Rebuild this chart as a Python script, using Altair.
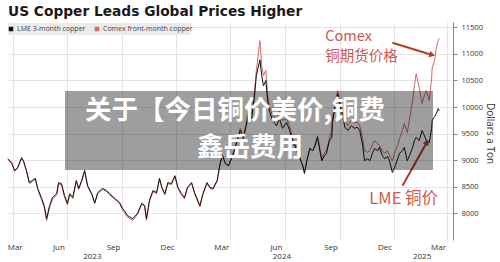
import altair as alt
import pandas as pd

# ---------------- data ----------------
dates = [
    "2023-02-21", "2023-02-24", "2023-02-27", "2023-03-04", "2023-03-09", "2023-03-16", "2023-03-19",
    "2023-03-24", "2023-03-29", "2023-04-03", "2023-04-08", "2023-04-12", "2023-04-18", "2023-04-23",
    "2023-04-27", "2023-05-02", "2023-05-07", "2023-05-14", "2023-05-17", "2023-05-22", "2023-05-27",
    "2023-06-01", "2023-06-05", "2023-06-10", "2023-06-16", "2023-06-20", "2023-06-25", "2023-06-30",
    "2023-07-05", "2023-07-12", "2023-07-17", "2023-07-22", "2023-07-30", "2023-08-06", "2023-08-11",
    "2023-08-20", "2023-08-28", "2023-09-02", "2023-09-05", "2023-09-10", "2023-09-19", "2023-09-27",
    "2023-10-04", "2023-10-09", "2023-10-12", "2023-10-17", "2023-10-23", "2023-10-29", "2023-11-03",
    "2023-11-07", "2023-11-12", "2023-11-17", "2023-11-23", "2023-11-29", "2023-12-04", "2023-12-10",
    "2023-12-15", "2023-12-20", "2023-12-27", "2024-01-01", "2024-01-10", "2024-01-15", "2024-01-22",
    "2024-01-27", "2024-02-01", "2024-02-08", "2024-02-13", "2024-02-17", "2024-02-22", "2024-02-27",
    "2024-03-03", "2024-03-08", "2024-03-13", "2024-03-18", "2024-03-23", "2024-03-28", "2024-04-02",
    "2024-04-06", "2024-04-11", "2024-04-14", "2024-04-20", "2024-04-23", "2024-04-26", "2024-04-30",
    "2024-05-03", "2024-05-06", "2024-05-11", "2024-05-18", "2024-05-23", "2024-05-28", "2024-06-04",
    "2024-06-09", "2024-06-14", "2024-06-21", "2024-06-26", "2024-07-01", "2024-07-04", "2024-07-08",
    "2024-07-13", "2024-07-18", "2024-07-21", "2024-07-26", "2024-08-02", "2024-08-07", "2024-08-10",
    "2024-08-15", "2024-08-19", "2024-08-20", "2024-08-25", "2024-08-29", "2024-09-01", "2024-09-06",
    "2024-09-10", "2024-09-15", "2024-09-21", "2024-09-26", "2024-10-01", "2024-10-05", "2024-10-10",
    "2024-10-13", "2024-10-18", "2024-10-22", "2024-10-27", "2024-10-30", "2024-11-04", "2024-11-07",
    "2024-11-12", "2024-11-16", "2024-11-21", "2024-11-24", "2024-11-29", "2024-12-04", "2024-12-08",
    "2024-12-11", "2024-12-16", "2024-12-19", "2024-12-24", "2024-12-28", "2025-01-02", "2025-01-05",
    "2025-01-08", "2025-01-13", "2025-01-18", "2025-01-22", "2025-01-25", "2025-01-30", "2025-02-03",
    "2025-02-04", "2025-02-08", "2025-02-11", "2025-02-14", "2025-02-16",
]

lme = [
    9030, 8990, 8960, 8810, 8860, 9050, 8990,
    8810, 8580, 8620, 8660, 8470, 8300, 8150,
    7900, 8150, 8300, 8370, 8580, 8560, 8340,
    8190, 8370, 8300, 8620, 8470, 8620, 8810,
    8520, 8370, 8200, 8390, 8470, 8430, 8370,
    8280, 8200, 8090, 8050, 7960, 7900, 8000,
    8190, 8150, 7900, 8240, 8430, 8390, 8660,
    8490, 8370, 8580, 8560, 8710, 8490, 8370,
    8300, 8490, 8580, 8390, 8150, 8370, 8580,
    8490, 8470, 8620, 8940, 9090, 8940, 8900,
    9030, 9180, 9370, 9560, 9410, 9650, 9930,
    9780, 10220, 10590, 10890, 10590, 10400, 10500,
    10120, 9930, 9750, 9650, 9780, 9600, 9710,
    9560, 9370, 9180, 9050, 8900, 8750, 8990,
    9220, 9180, 9240, 9430, 8990, 9090, 9130,
    9370, 9430, 9710, 10030, 10250, 10070, 9840,
    9620, 9560, 9650, 9600, 9620, 9560, 9280,
    8990, 9030, 8990, 9150, 9220, 9180, 9240,
    9090, 9030, 9070, 8990, 8770, 8900, 9030,
    9130, 9180, 9240, 8990, 9090, 9240, 9370,
    9430, 9370, 9560, 9460, 9370, 9330, 9600,
    9750, 9820, 9880, 9970, 9930,
]

comex = [
    9010, 8970, 8940, 8790, 8840, 9030, 8980,
    8790, 8560, 8600, 8640, 8450, 8270, 8110,
    7860, 8110, 8270, 8350, 8550, 8540, 8310,
    8160, 8350, 8280, 8600, 8450, 8600, 8790,
    8500, 8350, 8180, 8370, 8450, 8410, 8350,
    8260, 8180, 8060, 8020, 7930, 7870, 7980,
    8170, 8130, 7870, 8220, 8410, 8370, 8640,
    8470, 8350, 8560, 8540, 8690, 8470, 8350,
    8270, 8470, 8560, 8370, 8120, 8350, 8560,
    8470, 8450, 8600, 8930, 9080, 8930, 8890,
    9030, 9200, 9400, 9600, 9450, 9700, 10000,
    9850, 10300, 10690, 11250, 10780, 10590, 10690,
    10220, 10030, 9840, 9780, 9930, 9750, 9780,
    9650, 9410, 9220, 9050, 8900, 8770, 8990,
    9220, 9180, 9280, 9460, 9030, 9150, 9180,
    9410, 9560, 9780, 10120, 10310, 10120, 9930,
    9750, 9650, 9750, 9710, 9710, 9650, 9410,
    9180, 9150, 9180, 9310, 9370, 9310, 9280,
    9180, 9130, 9180, 9090, 8990, 9180, 9280,
    9410, 9560, 9690, 9520, 9780, 10120, 10400,
    10630, 10370, 10070, 10220, 10310, 10120, 10540,
    10740, 10870, 11120, 11250, 11290,
]

series_names = ["LME 3-month copper", "Comex front-month copper"]
series_colors = ["#111111", "#d26b63"]

x_tick_dates = ["2023-03-01", "2023-06-01", "2023-09-01", "2023-12-01", "2024-03-01",
                "2024-06-01", "2024-09-01", "2024-12-01", "2025-03-01"]
y_ticks = [8000, 8500, 9000, 9500, 10000, 10500, 11000, 11500]
year_labels = ["2023", "2024", "2025"]
year_label_dates = ["2023-07-13", "2024-05-27", "2025-01-18"]

title_text = "US Copper Leads Global Prices Higher"
overlay_lines = ["关于【今日铜价美价,铜费", "鑫岳费用"]

# annotations (data coordinates)
ann_text = ["Comex", "铜期货价格"]
ann_dates = ["2024-08-08", "2024-08-08"]
ann_values = [11320, 10950]
lme_ann_text = ["LME 铜价"]
lme_ann_dates = ["2024-12-18"]
lme_ann_values = [8280]
arrow_start_dates = ["2024-11-29", "2024-12-16"]
arrow_start_values = [11210, 8520]
arrow_end_dates = ["2025-02-04", "2025-01-26"]
arrow_end_values = [10980, 9340]
arrow_angles = [17, 300]

# ---------------- layout ----------------
W, H = 445, 218
y_domain = [7500, 11600]
FONT = "Open Sans"
ann_color = "#d0594d"
arrow_color = "#b33a2e"

df = pd.DataFrame({"date": dates, "lme": lme, "comex": comex})

xs = alt.Scale(type="utc", domain=[alt.DateTime(year=2023, month=2, date=21, utc=True),
                                   alt.DateTime(year=2025, month=3, date=11, utc=True)])
ys = alt.Scale(domain=y_domain, nice=False, zero=False)

tick_vals = []
for d in x_tick_dates:
    yy, mm, dd = map(int, d.split("-"))
    tick_vals.append(alt.DateTime(year=yy, month=mm, date=dd, utc=True))

x_axis = alt.Axis(
    values=tick_vals,
    labelExpr="utcFormat(datum.value, '%b')",
    grid=True, gridColor="#e4e4e4", gridWidth=1,
    domain=False, ticks=False,
    labelFont=FONT, labelFontSize=8, labelColor="#333333",
    labelPadding=3, labelOverlap=False,
    labelOffset={"condition": {"test": "utcyear(datum.value) == 2023 && utcmonth(datum.value) == 2", "value": 2}, "value": -9},
    title=None,
)
y_axis = alt.Axis(
    orient="right", values=y_ticks, format="d",
    grid=True, gridColor="#e4e4e4", gridWidth=1,
    domain=True, domainColor="#888888", domainWidth=1,
    ticks=True, tickSize=4, tickColor="#888888",
    labelFont=FONT, labelFontSize=7.5, labelColor="#333333", labelPadding=4,
    labelOverlap=False,
    title="Dollars a Ton", titleFont=FONT, titleFontSize=10, titleFontWeight="normal",
    titleColor="#333333", titleAngle=90, titleX=36, titleY=111,
    titleAlign="center", titleBaseline="middle",
)

base = alt.Chart(df)
comex_line = base.mark_line(color=series_colors[1], strokeWidth=1).encode(
    x=alt.X("date:T", scale=xs, axis=x_axis),
    y=alt.Y("comex:Q", scale=ys, axis=y_axis),
)
lme_line = base.mark_line(color=series_colors[0], strokeWidth=1).encode(
    x=alt.X("date:T", scale=xs, axis=x_axis),
    y=alt.Y("lme:Q", scale=ys, axis=y_axis),
)

# year labels under the axis
yr_df = pd.DataFrame({"date": year_label_dates, "label": year_labels})
years = alt.Chart(yr_df).mark_text(font=FONT, fontSize=8, color="#333333", baseline="middle").encode(
    x=alt.X("date:T", scale=xs, axis=x_axis), y=alt.value(H + 17), text="label:N"
)

# title
title = alt.Chart(pd.DataFrame({"t": [title_text]})).mark_text(
    font="DejaVu Sans", fontSize=13.75, fontWeight="bold", color="#1a1a1a", align="left", baseline="alphabetic"
).encode(x=alt.value(0), y=alt.value(-6), text="t:N")

# legend (manual)
leg_bg = alt.Chart(pd.DataFrame({"a": [0]})).mark_rect(color="#ebebeb").encode(
    x=alt.value(0), x2=alt.value(183), y=alt.value(1), y2=alt.value(13)
)
leg_df = pd.DataFrame({"label": series_names, "color": series_colors, "px": [3, 89], "tx": [9, 95]})
leg_sq = alt.Chart(leg_df).mark_square(size=20, opacity=1).encode(
    x=alt.X("px:Q", scale=None), y=alt.value(7), color=alt.Color("color:N", scale=None)
)
leg_tx = alt.Chart(leg_df).mark_text(font=FONT, fontSize=7, color="#444444", align="left", baseline="middle").encode(
    x=alt.X("tx:Q", scale=None), y=alt.value(7), text="label:N"
)

# annotations
ann_df = pd.DataFrame({"date": ann_dates, "v": ann_values, "t": ann_text})
ann = alt.Chart(ann_df).mark_text(font="Noto Sans CJK SC", fontSize=14.5, color=ann_color,
                                  baseline="middle", align="left").encode(
    x=alt.X("date:T", scale=xs, axis=x_axis), y=alt.Y("v:Q", scale=ys, axis=y_axis), text="t:N"
)
lme_ann_df = pd.DataFrame({"date": lme_ann_dates, "v": lme_ann_values, "t": lme_ann_text})
lme_ann = alt.Chart(lme_ann_df).mark_text(font="Noto Sans CJK SC", fontSize=16.5, color=ann_color,
                                          baseline="middle", align="center").encode(
    x=alt.X("date:T", scale=xs, axis=x_axis), y=alt.Y("v:Q", scale=ys, axis=y_axis), text="t:N"
)
arr_df = pd.DataFrame({"d1": arrow_start_dates, "v1": arrow_start_values,
                       "d2": arrow_end_dates, "v2": arrow_end_values, "ang": arrow_angles})
arr_lines = alt.Chart(arr_df).mark_rule(color=arrow_color, strokeWidth=2).encode(
    x=alt.X("d1:T", scale=xs, axis=x_axis), y=alt.Y("v1:Q", scale=ys, axis=y_axis), x2="d2:T", y2="v2:Q"
)
arr_heads = alt.Chart(arr_df).mark_point(shape="triangle-right", filled=True, size=45, color=arrow_color, opacity=1).encode(
    x=alt.X("d2:T", scale=xs, axis=x_axis), y=alt.Y("v2:Q", scale=ys, axis=y_axis),
    angle=alt.Angle("ang:Q", scale=None)
)

# overlay box with white text
ov_box = alt.Chart(pd.DataFrame({"a": [0]})).mark_rect(color="#000000", opacity=0.38).encode(
    x=alt.value(57), x2=alt.value(425), y=alt.value(69), y2=alt.value(148)
)
ov_df = pd.DataFrame({"t": overlay_lines, "px": [227, 242], "py": [89, 126]})
ov_text = alt.Chart(ov_df).mark_text(font="Noto Sans CJK SC", fontSize=26.5, fontWeight="bold", color="white",
                                     baseline="middle", align="center").encode(
    x=alt.X("px:Q", scale=None), y=alt.Y("py:Q", scale=None), text="t:N"
)

chart = alt.layer(
    comex_line, lme_line, years, title, leg_bg, leg_sq, leg_tx, ann, lme_ann, arr_lines, arr_heads, ov_box, ov_text
).properties(
    width=W, height=H, autosize=alt.AutoSizeParams(type="none"),
    padding={"left": 8, "top": 22, "right": 47, "bottom": 22},
    background="white",
).configure_view(stroke=None)

chart.save("out.html", embed_options={"renderer": "svg", "actions": False})
